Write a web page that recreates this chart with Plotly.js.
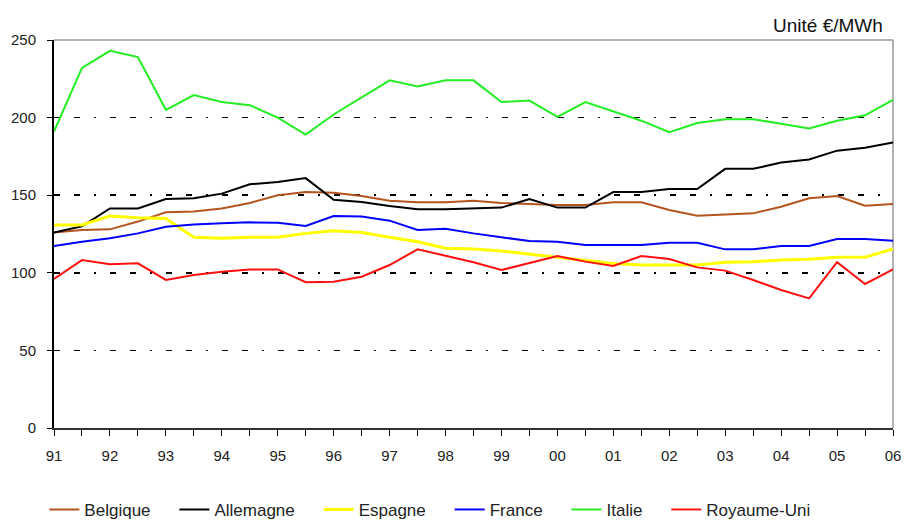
<!DOCTYPE html>
<html>
<head>
<meta charset="utf-8">
<script src="https://cdn.plot.ly/plotly-3.0.1.min.js"></script>
<style>html,body{margin:0;padding:0;background:#fff;}#chart{width:906px;height:520px;}</style>
</head>
<body>
<div id="chart"></div>
<script>
// Half-year periods from 1991 to 2006
const periods = [1991,1991.5,1992,1992.5,1993,1993.5,1994,1994.5,1995,1995.5,1996,1996.5,1997,1997.5,1998,1998.5,1999,1999.5,2000,2000.5,2001,2001.5,2002,2002.5,2003,2003.5,2004,2004.5,2005,2005.5,2006];
const yearTicks = [1991,1992,1993,1994,1995,1996,1997,1998,1999,2000,2001,2002,2003,2004,2005,2006];
const yearLabels = ['91','92','93','94','95','96','97','98','99','00','01','02','03','04','05','06'];

const belgique  = [126,127.5,128,133,139,139.5,141.5,145,150,152,151.5,149.5,146.5,145.5,145.5,146.5,145,144.3,143.7,143.7,145.4,145.4,140.5,136.8,137.7,138.3,142.6,148,149.5,143.2,144.3];
const allemagne = [126,130,141.5,141.5,147.5,148,151,157,158.5,161,147,145.6,143,141,141,141.5,142,147.5,142,142,152,152,154,154,167,167,171,173,178.7,180.6,184];
const espagne   = [130.8,130.8,136.6,135.5,135,122.9,122.2,122.9,122.9,125.4,127.1,126,122.9,120,115.8,115.3,114,112,110,108.2,106,105,105,105,106.8,107.2,108.2,108.7,110,110,115.3];
const france    = [117.3,120,122.2,125.4,129.7,131.2,131.9,132.5,132.3,130.2,136.6,136.2,133.6,127.6,128.4,125.4,122.9,120.5,120,117.9,117.9,117.9,119.4,119.4,115.1,115.1,117.3,117.3,121.8,121.8,120.7];
const italie    = [191,232,243,239,205,214.5,210,208,200,189,202,213,224,220,224,224,210,211,200.5,210,204,198,190.6,196.5,199,199,196,193,198,201.5,211.5];
const royaumeUni= [96,108.2,105.5,106.1,95.4,98.6,100.7,102.2,102.2,93.9,94.3,97.5,105,115.1,111,106.8,101.8,106.1,110.8,107.2,104.4,110.8,108.9,103.5,101.4,95.4,88.9,83.5,106.8,92.8,102.2];

const seriesNames = ['Belgique','Allemagne','Espagne','France','Italie','Royaume-Uni'];
const seriesValues = [belgique, allemagne, espagne, france, italie, royaumeUni];
const seriesColors = ['#B4541E','#000000','#FFFF00','#0000FF','#22EE22','#FF1010'];
const seriesWidths = [2,2,3,2,2,2];

const pad = '\u00A0\u00A0\u00A0\u00A0';
const traces = seriesNames.map((n,i)=>({
  type:'scatter', mode:'lines', name: n + (i < seriesNames.length-1 ? pad : ''), x:periods, y:seriesValues[i],
  line:{color:seriesColors[i], width:seriesWidths[i]}, hoverinfo:'skip'
}));

const tickVals = periods;
const tickText = periods.map(p => { const k = yearTicks.indexOf(p); return k>=0 ? yearLabels[k] : ''; });

const layout = {
  width:906, height:520,
  margin:{l:54, r:13, t:40, b:92, autoexpand:false},
  paper_bgcolor:'#fff', plot_bgcolor:'#fff',
  font:{family:'Liberation Sans, Arial, sans-serif', size:15, color:'#222'},
  showlegend:true,
  legend:{orientation:'h', x:0.448, xanchor:'center', y:-0.211, yanchor:'middle', font:{size:17, color:'#222'}, itemwidth:30, tracegroupgap:0},
  xaxis:{range:[1991,2006], tickmode:'array', tickvals:tickVals, ticktext:tickText,
         ticks:'outside', ticklen:6, tickwidth:1, tickcolor:'#000', showgrid:false, zeroline:false,
         ticklabelstandoff:7,
         showline:true, linecolor:'#333', linewidth:2, tickfont:{size:15, color:'#222'}, fixedrange:true},
  yaxis:{range:[0,250], tickvals:[0,50,100,150,200,250], ticks:'outside', ticklen:5, tickcolor:'#000',
         ticklabelstandoff:8,
         showgrid:true, gridcolor:'#000', gridwidth:1.5, griddash:'6px,14px,6px,14px,2px,14px',
         zeroline:false, showline:true, linecolor:'#000', linewidth:2, tickfont:{size:15, color:'#222'}, fixedrange:true},
  shapes:[
    {type:'line', xref:'paper', yref:'paper', x0:0, x1:1, y0:1, y1:1, line:{color:'#999', width:1.5}, layer:'below'},
    {type:'line', xref:'paper', yref:'paper', x0:1, x1:1, y0:0, y1:1, line:{color:'#999', width:1.5}, layer:'below'}
  ],
  annotations:[{text:'Unité €/MWh', xref:'paper', yref:'paper', x:1, y:1, xanchor:'right', yanchor:'bottom', yshift:2, xshift:-8, showarrow:false, font:{size:19, color:'#111'}}]
};

Plotly.newPlot('chart', traces, layout, {displayModeBar:false, staticPlot:true});
</script>
</body>
</html>
